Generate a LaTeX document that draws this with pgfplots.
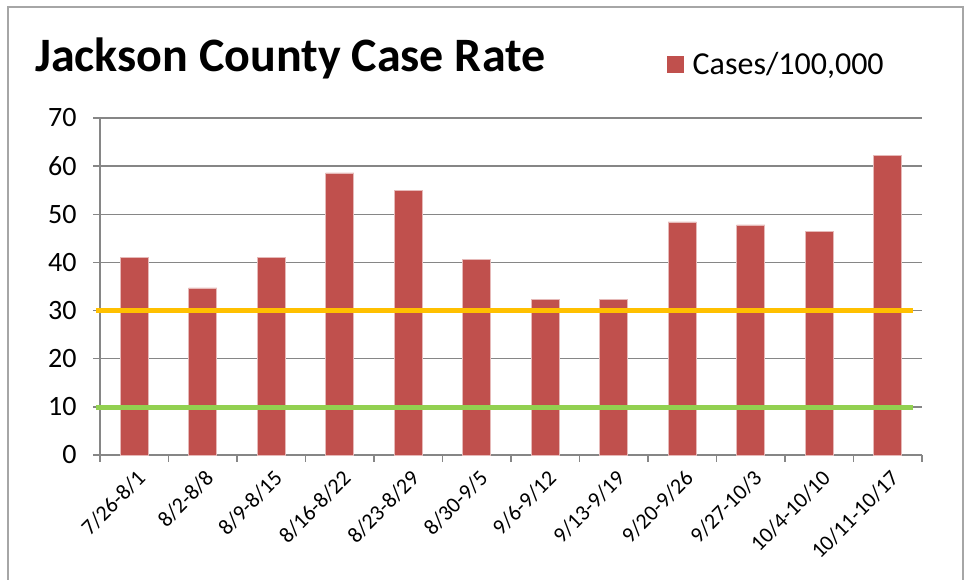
\documentclass[border=0pt]{standalone}
\usepackage{fontspec}
\setmainfont{Carlito}
\usepackage{pgfplots}
\pgfplotsset{compat=1.18}
\definecolor{barred}{HTML}{C0504D}
\definecolor{baredge}{HTML}{E6B9B8}
\definecolor{lineorange}{HTML}{FFC000}
\definecolor{linegreen}{HTML}{92D050}
\definecolor{gridgray}{HTML}{868686}
\definecolor{framegray}{HTML}{A6A6A6}
\begin{document}
\begin{tikzpicture}[x=0.75pt,y=0.75pt]
\useasboundingbox (0,0) rectangle (968,579);
\fill[white] (0,0) rectangle (968,579);
\draw[framegray, line width=1.5pt] (8,-20) -- (8,572) -- (963,572) -- (963,-20);
\node[anchor=base west, inner sep=0pt, font=\bfseries\fontsize{36}{40}\selectfont] at (35,507) {Jackson County Case Rate};
\begin{axis}[
  at={(75pt,93pt)}, anchor=south west, scale only axis,
  width=616.5pt, height=252.75pt,
  xmin=-0.5, xmax=11.5, ymin=0, ymax=70,
  axis x line=bottom, axis y line=left,
  axis line style={gridgray, line width=1pt, -},
  every axis x line/.append style={-}, every axis y line/.append style={-},
  ytick={0,10,...,70},
  ymajorgrids, grid style={gridgray, line width=1pt},
  tick align=outside,
  major tick length=5pt,
  tick style={gridgray, line width=1pt},
  xtick={-0.5,0.5,...,11.5},
  xticklabels={},
  extra x ticks={0,...,11},
  extra x tick labels={7/26-8/1,8/2-8/8,8/9-8/15,8/16-8/22,8/23-8/29,8/30-9/5,9/6-9/12,9/13-9/19,9/20-9/26,9/27-10/3,10/4-10/10,10/11-10/17},
  extra x tick style={major tick length=0pt, xticklabel style={yshift=-9pt, xshift=1pt, rotate=45, anchor=north east, font=\fontsize{16.5}{18}\selectfont, inner sep=1pt}},
  yticklabel style={xshift=-9pt, font=\fontsize{21}{24}\selectfont},
  /pgf/number format/assume math mode=true,
  clip=false,
  legend style={at={(0.685,1.16)}, anchor=west, draw=none, fill=none, font=\fontsize{24}{26}\selectfont},
  legend image code/.code={\fill[barred, draw=none] (0pt,-6.4pt) rectangle (12.75pt,6.4pt); \path[draw=none, fill=none] (0pt,0pt) -- (17pt,0pt);},
]
\addplot[ybar, bar width=0.41, fill=barred, draw=baredge, line width=0.5pt] coordinates {
(0,41.0) (1,34.7) (2,41.0) (3,58.6) (4,55.0) (5,40.6) (6,32.4) (7,32.4) (8,48.4) (9,47.8) (10,46.4) (11,62.3)
};
\addlegendentry{Cases/100,000}
\addplot[forget plot, lineorange, line width=3.75pt] coordinates {(-0.56,30.1) (11.37,30.1)};
\addplot[forget plot, linegreen, line width=3.75pt] coordinates {(-0.56,9.8) (11.37,9.8)};
\end{axis}
\end{tikzpicture}
\end{document}
